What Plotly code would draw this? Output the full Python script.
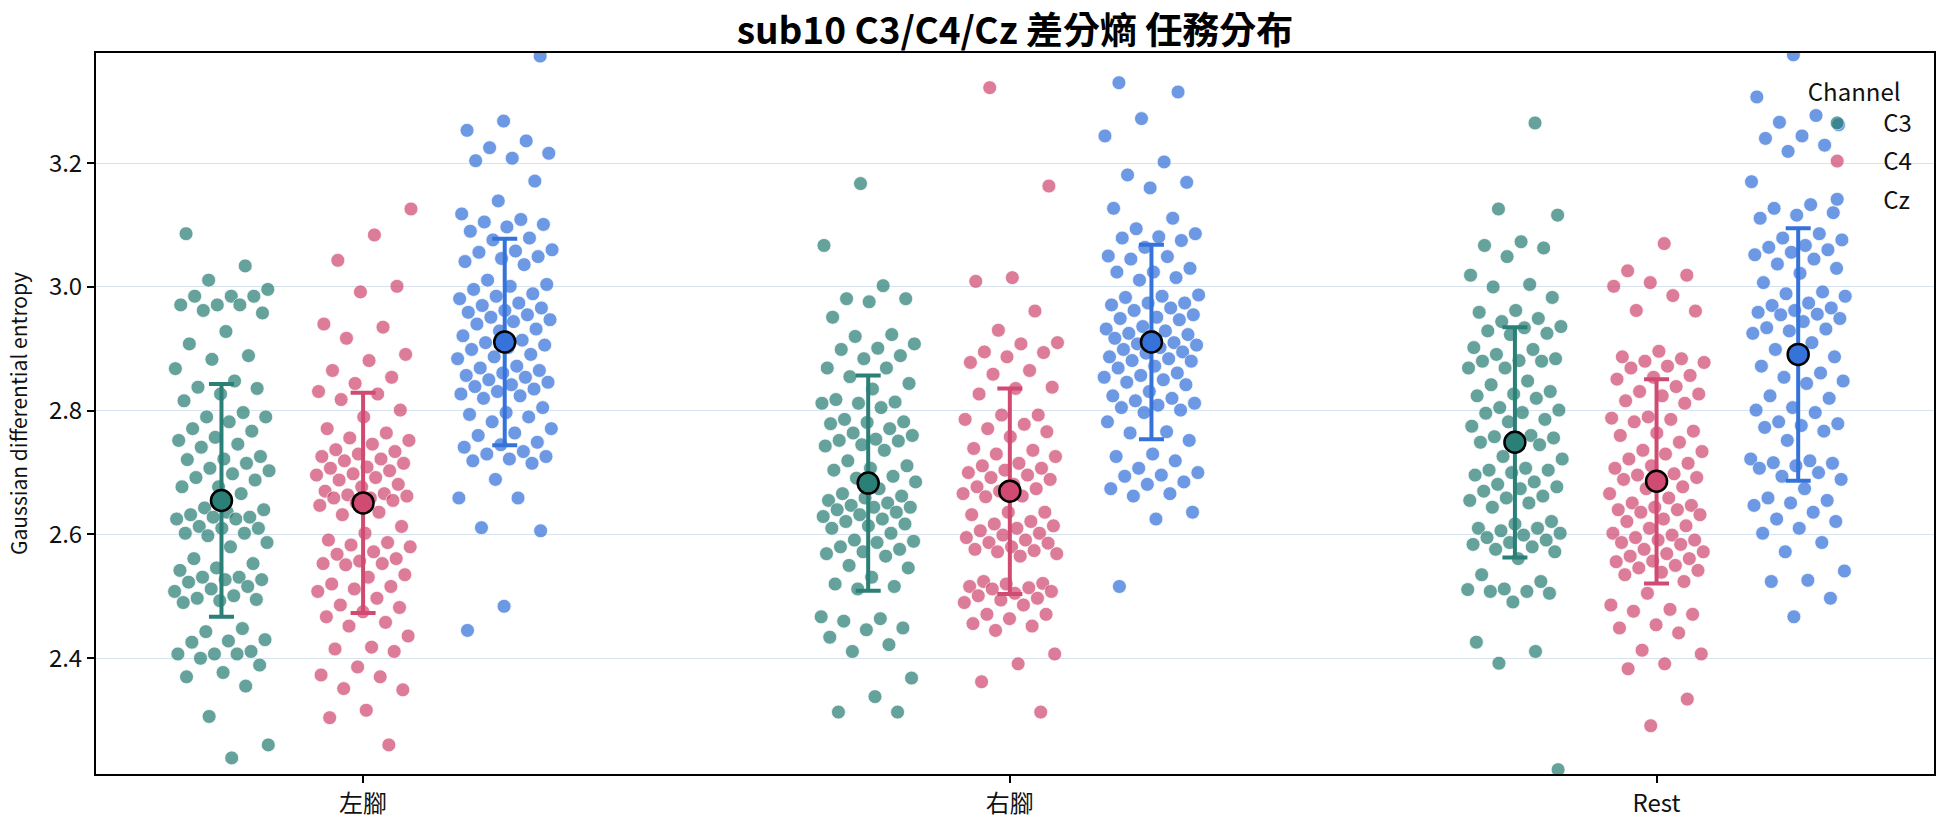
import plotly.graph_objects as go

# ---------------- data ----------------
categories = ["左腳", "右腳", "Rest"]
channels = ["C3", "C4", "Cz"]

left_C3 = [3.086, 3.034, 3.011, 2.996, 2.985, 2.985, 2.985, 2.971, 2.971, 2.971, 2.962, 2.958, 2.928,
           2.908, 2.889, 2.883, 2.868, 2.848, 2.838, 2.836, 2.827, 2.816, 2.797, 2.790, 2.790, 2.782,
           2.771, 2.767, 2.757, 2.752, 2.746, 2.741, 2.726, 2.722, 2.721, 2.715, 2.707, 2.703, 2.698,
           2.692, 2.688, 2.677, 2.677, 2.666, 2.643, 2.640, 2.636, 2.632, 2.628, 2.628, 2.625, 2.625,
           2.613, 2.610, 2.610, 2.602, 2.602, 2.598, 2.587, 2.580, 2.561, 2.553, 2.546, 2.542, 2.531,
           2.531, 2.527, 2.527, 2.523, 2.516, 2.512, 2.508, 2.501, 2.497, 2.495, 2.493, 2.490, 2.448,
           2.443, 2.430, 2.428, 2.426, 2.411, 2.407, 2.407, 2.407, 2.400, 2.389, 2.377, 2.370, 2.355,
           2.306, 2.260, 2.239]
left_C4 = [3.126, 3.084, 3.043, 3.001, 2.992, 2.940, 2.935, 2.917, 2.891, 2.881, 2.865, 2.854, 2.844,
           2.831, 2.827, 2.818, 2.801, 2.790, 2.771, 2.764, 2.756, 2.752, 2.746, 2.737, 2.734, 2.730,
           2.726, 2.722, 2.719, 2.715, 2.709, 2.707, 2.703, 2.698, 2.696, 2.692, 2.688, 2.681, 2.677,
           2.670, 2.666, 2.664, 2.662, 2.659, 2.659, 2.655, 2.651, 2.647, 2.636, 2.632, 2.613, 2.602,
           2.591, 2.587, 2.583, 2.580, 2.572, 2.568, 2.561, 2.557, 2.553, 2.553, 2.551, 2.535, 2.531,
           2.520, 2.516, 2.512, 2.508, 2.497, 2.486, 2.482, 2.475, 2.467, 2.458, 2.452, 2.436, 2.418,
           2.415, 2.411, 2.386, 2.373, 2.370, 2.351, 2.349, 2.316, 2.304, 2.260]
left_Cz = [3.373, 3.268, 3.253, 3.236, 3.225, 3.216, 3.208, 3.204, 3.171, 3.139, 3.118, 3.109, 3.105,
           3.101, 3.097, 3.090, 3.079, 3.076, 3.060, 3.058, 3.056, 3.049, 3.046, 3.041, 3.036, 3.011,
           3.004, 3.001, 2.996, 2.989, 2.985, 2.981, 2.974, 2.970, 2.966, 2.962, 2.959, 2.955, 2.951,
           2.947, 2.944, 2.940, 2.932, 2.929, 2.921, 2.914, 2.910, 2.906, 2.902, 2.899, 2.891, 2.887,
           2.884, 2.872, 2.869, 2.865, 2.861, 2.857, 2.854, 2.850, 2.846, 2.842, 2.839, 2.835, 2.831,
           2.827, 2.824, 2.820, 2.805, 2.797, 2.794, 2.790, 2.782, 2.771, 2.764, 2.760, 2.749, 2.745,
           2.741, 2.734, 2.730, 2.726, 2.722, 2.719, 2.715, 2.689, 2.659, 2.659, 2.611, 2.606, 2.484,
           2.445]
right_C3 = [3.167, 3.067, 3.002, 2.981, 2.981, 2.976, 2.951, 2.923, 2.920, 2.908, 2.901, 2.899, 2.889,
            2.884, 2.869, 2.869, 2.855, 2.844, 2.835, 2.818, 2.814, 2.812, 2.812, 2.805, 2.786, 2.782,
            2.781, 2.779, 2.771, 2.764, 2.760, 2.754, 2.752, 2.751, 2.745, 2.743, 2.736, 2.719, 2.711,
            2.707, 2.704, 2.694, 2.691, 2.685, 2.674, 2.666, 2.662, 2.659, 2.655, 2.651, 2.647, 2.644,
            2.644, 2.640, 2.636, 2.632, 2.629, 2.625, 2.621, 2.617, 2.614, 2.610, 2.602, 2.591, 2.589,
            2.587, 2.580, 2.576, 2.572, 2.569, 2.565, 2.550, 2.546, 2.531, 2.520, 2.516, 2.512, 2.467,
            2.464, 2.460, 2.449, 2.446, 2.434, 2.422, 2.411, 2.368, 2.338, 2.313, 2.313]
right_C4 = [3.322, 3.163, 3.015, 3.009, 2.961, 2.930, 2.910, 2.908, 2.895, 2.894, 2.887, 2.878, 2.865,
            2.859, 2.838, 2.836, 2.827, 2.793, 2.793, 2.786, 2.778, 2.771, 2.766, 2.758, 2.739, 2.736,
            2.730, 2.726, 2.715, 2.711, 2.707, 2.704, 2.700, 2.696, 2.692, 2.689, 2.681, 2.677, 2.674,
            2.670, 2.666, 2.662, 2.661, 2.636, 2.636, 2.632, 2.621, 2.617, 2.614, 2.610, 2.606, 2.602,
            2.599, 2.595, 2.591, 2.587, 2.586, 2.580, 2.576, 2.574, 2.572, 2.569, 2.565, 2.524, 2.521,
            2.520, 2.516, 2.514, 2.512, 2.508, 2.505, 2.501, 2.497, 2.494, 2.490, 2.486, 2.471, 2.471,
            2.464, 2.456, 2.452, 2.445, 2.407, 2.391, 2.362, 2.313]
right_Cz = [3.330, 3.315, 3.272, 3.244, 3.202, 3.181, 3.169, 3.160, 3.127, 3.111, 3.094, 3.086, 3.081,
            3.079, 3.075, 3.064, 3.050, 3.049, 3.045, 3.030, 3.024, 3.024, 3.015, 3.011, 2.987, 2.985,
            2.983, 2.974, 2.974, 2.971, 2.966, 2.962, 2.955, 2.951, 2.949, 2.947, 2.936, 2.932, 2.929,
            2.925, 2.923, 2.921, 2.917, 2.910, 2.908, 2.906, 2.902, 2.899, 2.895, 2.893, 2.887, 2.884,
            2.881, 2.880, 2.872, 2.869, 2.861, 2.857, 2.854, 2.850, 2.846, 2.842, 2.831, 2.824, 2.820,
            2.816, 2.812, 2.809, 2.805, 2.801, 2.797, 2.782, 2.766, 2.764, 2.752, 2.730, 2.726, 2.719,
            2.707, 2.700, 2.696, 2.694, 2.685, 2.681, 2.674, 2.666, 2.662, 2.636, 2.625, 2.516]
rest_C3 = [3.265, 3.126, 3.116, 3.073, 3.067, 3.063, 3.049, 3.019, 3.004, 3.000, 2.983, 2.962, 2.959,
           2.949, 2.944, 2.936, 2.934, 2.929, 2.925, 2.923, 2.902, 2.899, 2.891, 2.884, 2.881, 2.880,
           2.880, 2.869, 2.869, 2.848, 2.842, 2.831, 2.827, 2.824, 2.820, 2.805, 2.801, 2.797, 2.796,
           2.786, 2.782, 2.775, 2.760, 2.758, 2.756, 2.752, 2.749, 2.745, 2.726, 2.722, 2.707, 2.704,
           2.704, 2.700, 2.696, 2.685, 2.681, 2.677, 2.674, 2.670, 2.662, 2.659, 2.655, 2.651, 2.644,
           2.621, 2.617, 2.610, 2.610, 2.606, 2.602, 2.599, 2.595, 2.591, 2.587, 2.584, 2.580, 2.576,
           2.572, 2.561, 2.535, 2.524, 2.512, 2.511, 2.508, 2.508, 2.505, 2.491, 2.426, 2.411, 2.392,
           2.220]
rest_C4 = [3.070, 3.026, 3.019, 3.007, 3.001, 2.986, 2.962, 2.961, 2.896, 2.887, 2.884, 2.880, 2.878,
           2.872, 2.869, 2.857, 2.854, 2.851, 2.839, 2.831, 2.827, 2.824, 2.816, 2.812, 2.790, 2.788,
           2.786, 2.782, 2.767, 2.764, 2.760, 2.749, 2.736, 2.734, 2.730, 2.722, 2.715, 2.711, 2.707,
           2.698, 2.696, 2.692, 2.692, 2.689, 2.677, 2.674, 2.666, 2.659, 2.651, 2.647, 2.644, 2.640,
           2.640, 2.636, 2.632, 2.625, 2.621, 2.614, 2.610, 2.602, 2.599, 2.595, 2.591, 2.591, 2.587,
           2.584, 2.576, 2.572, 2.569, 2.565, 2.561, 2.557, 2.556, 2.550, 2.546, 2.542, 2.539, 2.535,
           2.524, 2.505, 2.486, 2.479, 2.476, 2.471, 2.454, 2.449, 2.441, 2.413, 2.407, 2.391, 2.383,
           2.334, 2.291]
rest_Cz = [3.375, 3.307, 3.277, 3.266, 3.262, 3.244, 3.240, 3.229, 3.219, 3.170, 3.133, 3.127, 3.120,
           3.116, 3.111, 3.086, 3.079, 3.076, 3.067, 3.064, 3.060, 3.056, 3.052, 3.045, 3.037, 3.030,
           3.022, 3.007, 2.992, 2.989, 2.985, 2.974, 2.970, 2.966, 2.962, 2.959, 2.956, 2.955, 2.949,
           2.944, 2.934, 2.932, 2.929, 2.925, 2.910, 2.899, 2.887, 2.886, 2.872, 2.861, 2.854, 2.848,
           2.844, 2.824, 2.820, 2.805, 2.801, 2.797, 2.782, 2.779, 2.776, 2.773, 2.767, 2.752, 2.722,
           2.719, 2.716, 2.715, 2.711, 2.707, 2.700, 2.694, 2.689, 2.674, 2.659, 2.655, 2.651, 2.647,
           2.636, 2.625, 2.621, 2.610, 2.602, 2.587, 2.572, 2.541, 2.526, 2.524, 2.497, 2.467]

points = {
    "C3": [left_C3, right_C3, rest_C3],
    "C4": [left_C4, right_C4, rest_C4],
    "Cz": [left_Cz, right_Cz, rest_Cz],
}

# mean and standard deviation shown by the error bars
mean_C3 = [2.655, 2.683, 2.749]
sd_C3 = [0.188, 0.174, 0.186]
mean_C4 = [2.651, 2.670, 2.686]
sd_C4 = [0.178, 0.166, 0.165]
mean_Cz = [2.911, 2.911, 2.891]
sd_Cz = [0.167, 0.157, 0.204]
means = {"C3": mean_C3, "C4": mean_C4, "Cz": mean_Cz}
sds = {"C3": sd_C3, "C4": sd_C4, "Cz": sd_Cz}

y_ticks = [2.4, 2.6, 2.8, 3.0, 3.2]

# ---------------- styling ----------------
colors = {"C3": "#2A7F76", "C4": "#D04A72", "Cz": "#3573DB"}
dodge = {"C3": -0.219, "C4": 0.0, "Cz": 0.219}
JIT = 0.074
FONT = "Noto Sans CJK TC, Noto Sans, sans-serif"


def jitter_offsets(n, k):
    # deterministic low-discrepancy spread (golden-ratio sequence)
    g = 0.6180339887
    return [(((i * g) + 0.29 * k + 0.13) % 1.0 - 0.5) * 2 * JIT for i in range(n)]


fig = go.Figure()

k = 0
for ch in channels:
    for ci, cat in enumerate(categories):
        vals = points[ch][ci]
        offs = jitter_offsets(len(vals), k)
        k += 1
        fig.add_trace(go.Scatter(
            x=[ci + dodge[ch] + o for o in offs],
            y=vals,
            mode="markers",
            name=ch,
            legendgroup=ch,
            showlegend=(ci == 0),
            marker=dict(size=14, color=colors[ch], opacity=0.72,
                        line=dict(color="white", width=0.8)),
            hovertemplate=cat + " " + ch + ": %{y:.3f}<extra></extra>",
        ))

for ch in channels:
    fig.add_trace(go.Scatter(
        x=[ci + dodge[ch] for ci in range(len(categories))],
        y=means[ch],
        mode="markers",
        name=ch + " mean",
        legendgroup=ch,
        showlegend=False,
        marker=dict(size=21, color=colors[ch], line=dict(color="black", width=2.5)),
        error_y=dict(type="data", array=sds[ch], symmetric=True, color=colors[ch],
                     thickness=4, width=12.5),
        hovertemplate=ch + " mean: %{y:.3f}<extra></extra>",
    ))

fig.update_layout(
    width=1944, height=827,
    margin=dict(l=96, r=8, t=53, b=51),
    paper_bgcolor="white", plot_bgcolor="white",
    font=dict(family=FONT, size=24, color="#111111"),
    title=dict(text="<b>sub10 C3/C4/Cz 差分熵 任務分布</b>", x=0.5, xref="paper",
               y=1 - 31 / 827, yref="container", yanchor="middle",
               font=dict(family=FONT, size=37, color="#000000")),
    legend=dict(title=dict(text="Channel", font=dict(size=24), side="top center"),
                x=0.9223, xanchor="left", y=0.977, yanchor="top",
                itemwidth=82, tracegroupgap=4,
                bgcolor="rgba(0,0,0,0)", font=dict(size=24)),
    showlegend=True,
)

fig.update_xaxes(
    range=[-0.413, 2.429], tickmode="array", tickvals=list(range(len(categories))),
    ticktext=categories, showgrid=False, zeroline=False,
    showline=True, mirror=True, linecolor="black", linewidth=2,
    ticks="outside", ticklen=7, tickwidth=1.5, tickcolor="black",
    tickfont=dict(size=24),
)
fig.update_yaxes(
    range=[2.213, 3.378], tickmode="array", tickvals=y_ticks,
    ticktext=[f"{v:.1f}" for v in y_ticks],
    showgrid=True, gridcolor="#d6e2ee", gridwidth=1.2, zeroline=False,
    showline=True, mirror=True, linecolor="black", linewidth=2,
    ticks="outside", ticklen=7, tickwidth=1.5, tickcolor="black",
    tickfont=dict(size=24),
    title=dict(text="Gaussian differential entropy", font=dict(size=21), standoff=16),
)

fig.write_html("out.html")
